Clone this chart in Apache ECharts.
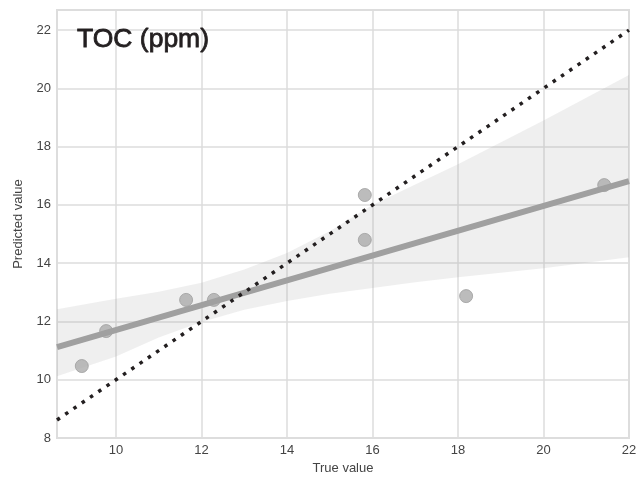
<!DOCTYPE html>
<html>
<head>
<meta charset="utf-8">
<script src="https://cdn.jsdelivr.net/npm/echarts@6/dist/echarts.min.js"></script>
<style>html,body{margin:0;padding:0;background:#fff}#c{width:643px;height:481px}</style>
</head>
<body>
<div id="c"></div>
<script>
// Observed points (true, predicted)
const trueVals = [9.20, 9.77, 11.64, 12.29, 15.82, 15.82, 18.19, 21.42];
const predVals = [10.47, 11.67, 12.74, 12.74, 16.34, 14.80, 12.87, 16.68];
// Regression line end points
const regX = [8.62, 22];
const regY = [11.12, 16.82];
// Confidence band
const bandX = [8.62, 10, 11, 12, 13, 14, 15, 16, 17, 18, 20, 22];
const bandUpper = [12.42, 12.78, 13.02, 13.33, 13.78, 14.35, 15.10, 16.00, 16.70, 17.40, 18.90, 20.46];
const bandLower = [10.12, 10.80, 11.45, 11.98, 12.40, 12.70, 12.95, 13.15, 13.35, 13.52, 13.83, 14.20];
// Identity line
const idX = [8.62, 22];
const idY = [8.62, 22];

const chart = echarts.init(document.getElementById('c'));
const bandData = bandX.map((x, i) => [x, bandLower[i], bandUpper[i]]);

const labelStyle = {color: '#444444', fontSize: 13, fontFamily: 'Liberation Sans, Arial, sans-serif'};
chart.setOption({
  animation: false,
  title: {
    text: 'TOC (ppm)', left: 72, top: 21,
    textStyle: {fontSize: 26.5, fontWeight: 'normal', color: '#231f20', fontFamily: 'Liberation Sans, Arial, sans-serif',
      textBorderColor: '#231f20', textBorderWidth: 0.8}
  },
  grid: {left: 57, right: 14, top: 10, bottom: 43, show: true, borderColor: '#dddddd', borderWidth: 2, backgroundColor: 'transparent'},
  xAxis: {
    type: 'value', min: 8.62, max: 22, splitNumber: 7, minInterval: 2, maxInterval: 2,
    name: 'True value', nameLocation: 'middle', nameGap: 22,
    nameTextStyle: labelStyle,
    axisLine: {show: false}, axisTick: {show: false},
    axisLabel: Object.assign({margin: 6, showMinLabel: false}, labelStyle),
    splitLine: {show: true, lineStyle: {color: '#dcdcdc', width: 1.5}}
  },
  yAxis: {
    type: 'value', min: 8, max: 22.69, interval: 2,
    name: 'Predicted value', nameLocation: 'middle', nameGap: 32,
    nameTextStyle: labelStyle,
    axisLine: {show: false}, axisTick: {show: false},
    axisLabel: Object.assign({margin: 6, showMaxLabel: false}, labelStyle),
    splitLine: {show: true, lineStyle: {color: '#dcdcdc', width: 1.5}}
  },
  series: [
    {type: 'custom', data: bandData, encode: {x: 0, y: [1, 2]}, silent: true, z: 1,
     renderItem: function (params, api) {
       if (params.dataIndex !== 0) return null;
       const pts = [];
       for (let i = 0; i < bandData.length; i++) pts.push(api.coord([bandData[i][0], bandData[i][2]]));
       for (let i = bandData.length - 1; i >= 0; i--) pts.push(api.coord([bandData[i][0], bandData[i][1]]));
       return {type: 'polygon', shape: {points: pts, smooth: 0}, style: {fill: 'rgba(150,150,150,0.15)'}};
     }},
    {type: 'scatter', data: trueVals.map((x, i) => [x, predVals[i]]), symbolSize: 13,
     itemStyle: {color: '#ababab', borderColor: '#9e9e9e', borderWidth: 1}, z: 3},
    {type: 'line', data: regX.map((x, i) => [x, regY[i]]), symbol: 'none',
     lineStyle: {color: '#a0a0a0', width: 6}, z: 4},
    {type: 'line', data: idX.map((x, i) => [x, idY[i]]), symbol: 'none',
     lineStyle: {color: '#231f20', width: 3.5, type: [3.5, 6.5], cap: 'butt'}, z: 5}
  ]
});
</script>
</body>
</html>
